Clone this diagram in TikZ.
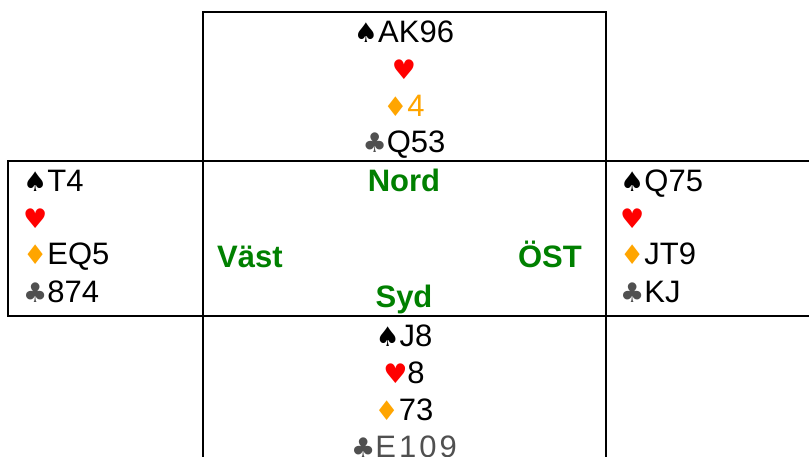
\documentclass[tikz,border=0pt]{standalone}
\usepackage{fontspec}
\setmainfont{Liberation Sans}
\newfontfamily\suitfont{DejaVu Sans}
\definecolor{suitred}{HTML}{FF0000}
\definecolor{suitorange}{HTML}{FFA500}
\definecolor{suitgray}{HTML}{505050}
\definecolor{labelgreen}{HTML}{008000}
\newcommand\SuitS{{\suitfont\fontsize{27}{27}\selectfont ♠}}
\newcommand\SuitH{{\color{suitred}\suitfont\fontsize{27}{27}\selectfont ♥}}
\newcommand\SuitD{{\color{suitorange}\suitfont\fontsize{27}{27}\selectfont ♦}}
\newcommand\SuitC{{\color{suitgray}\suitfont\fontsize{27}{27}\selectfont ♣}}
\begin{document}
\begin{tikzpicture}[x=1pt,y=-1pt,
  gridline/.style={line width=2pt, line cap=rect},
  hand/.style={inner sep=0pt, font=\fontsize{31}{36}\selectfont},
  seat/.style={inner sep=0pt, text=labelgreen, font=\fontsize{31}{36}\selectfont\bfseries}]
\useasboundingbox (0,0) rectangle (809,457);
\fill[white] (0,0) rectangle (809,457);
% grid
\draw[gridline] (203,12) -- (606,12);
\draw[gridline] (203,12) -- (203,460);
\draw[gridline] (606,12) -- (606,460);
\draw[gridline] (8,161) -- (812,161);
\draw[gridline] (8,316) -- (812,316);
\draw[gridline] (8,161) -- (8,316);
% north
\node[hand, anchor=base] (n1) at (404,43) {\SuitS AK96};
\node[hand, anchor=base] (n2) at (404,80) {\SuitH};
\node[hand, anchor=base, text=suitorange] (n3) at (404,117) {\SuitD 4};
\node[hand, anchor=base] (n4) at (404,153) {\SuitC Q53};
% west
\node[hand, anchor=base west] (w1) at (23,192) {\SuitS T4};
\node[hand, anchor=base west] (w2) at (23,229) {\SuitH};
\node[hand, anchor=base west] (w3) at (23,265) {\SuitD EQ5};
\node[hand, anchor=base west] (w4) at (23,302) {\SuitC 874};
% east
\node[hand, anchor=base west] (e1) at (620,192) {\SuitS Q75};
\node[hand, anchor=base west] (e2) at (620,229) {\SuitH};
\node[hand, anchor=base west] (e3) at (620,265) {\SuitD JT9};
\node[hand, anchor=base west] (e4) at (620,302) {\SuitC KJ};
% south
\node[hand, anchor=base] (s1) at (404,346) {\SuitS J8};
\node[hand, anchor=base] (s2) at (404,383) {\SuitH 8};
\node[hand, anchor=base] (s3) at (404,420) {\SuitD 73};
\node[hand, anchor=base, text=suitgray] (s4) at (404,457) {\SuitC E\kern3pt 1\kern3pt 0\kern3pt 9};
% seats
\node[seat, anchor=base] (nord) at (404,192) {Nord};
\node[seat, anchor=base] (syd) at (404,307) {Syd};
\node[seat, anchor=base west] (vast) at (217,268) {Väst};
\node[seat, anchor=base east] (ost) at (582,268) {ÖST};
\end{tikzpicture}
\end{document}
